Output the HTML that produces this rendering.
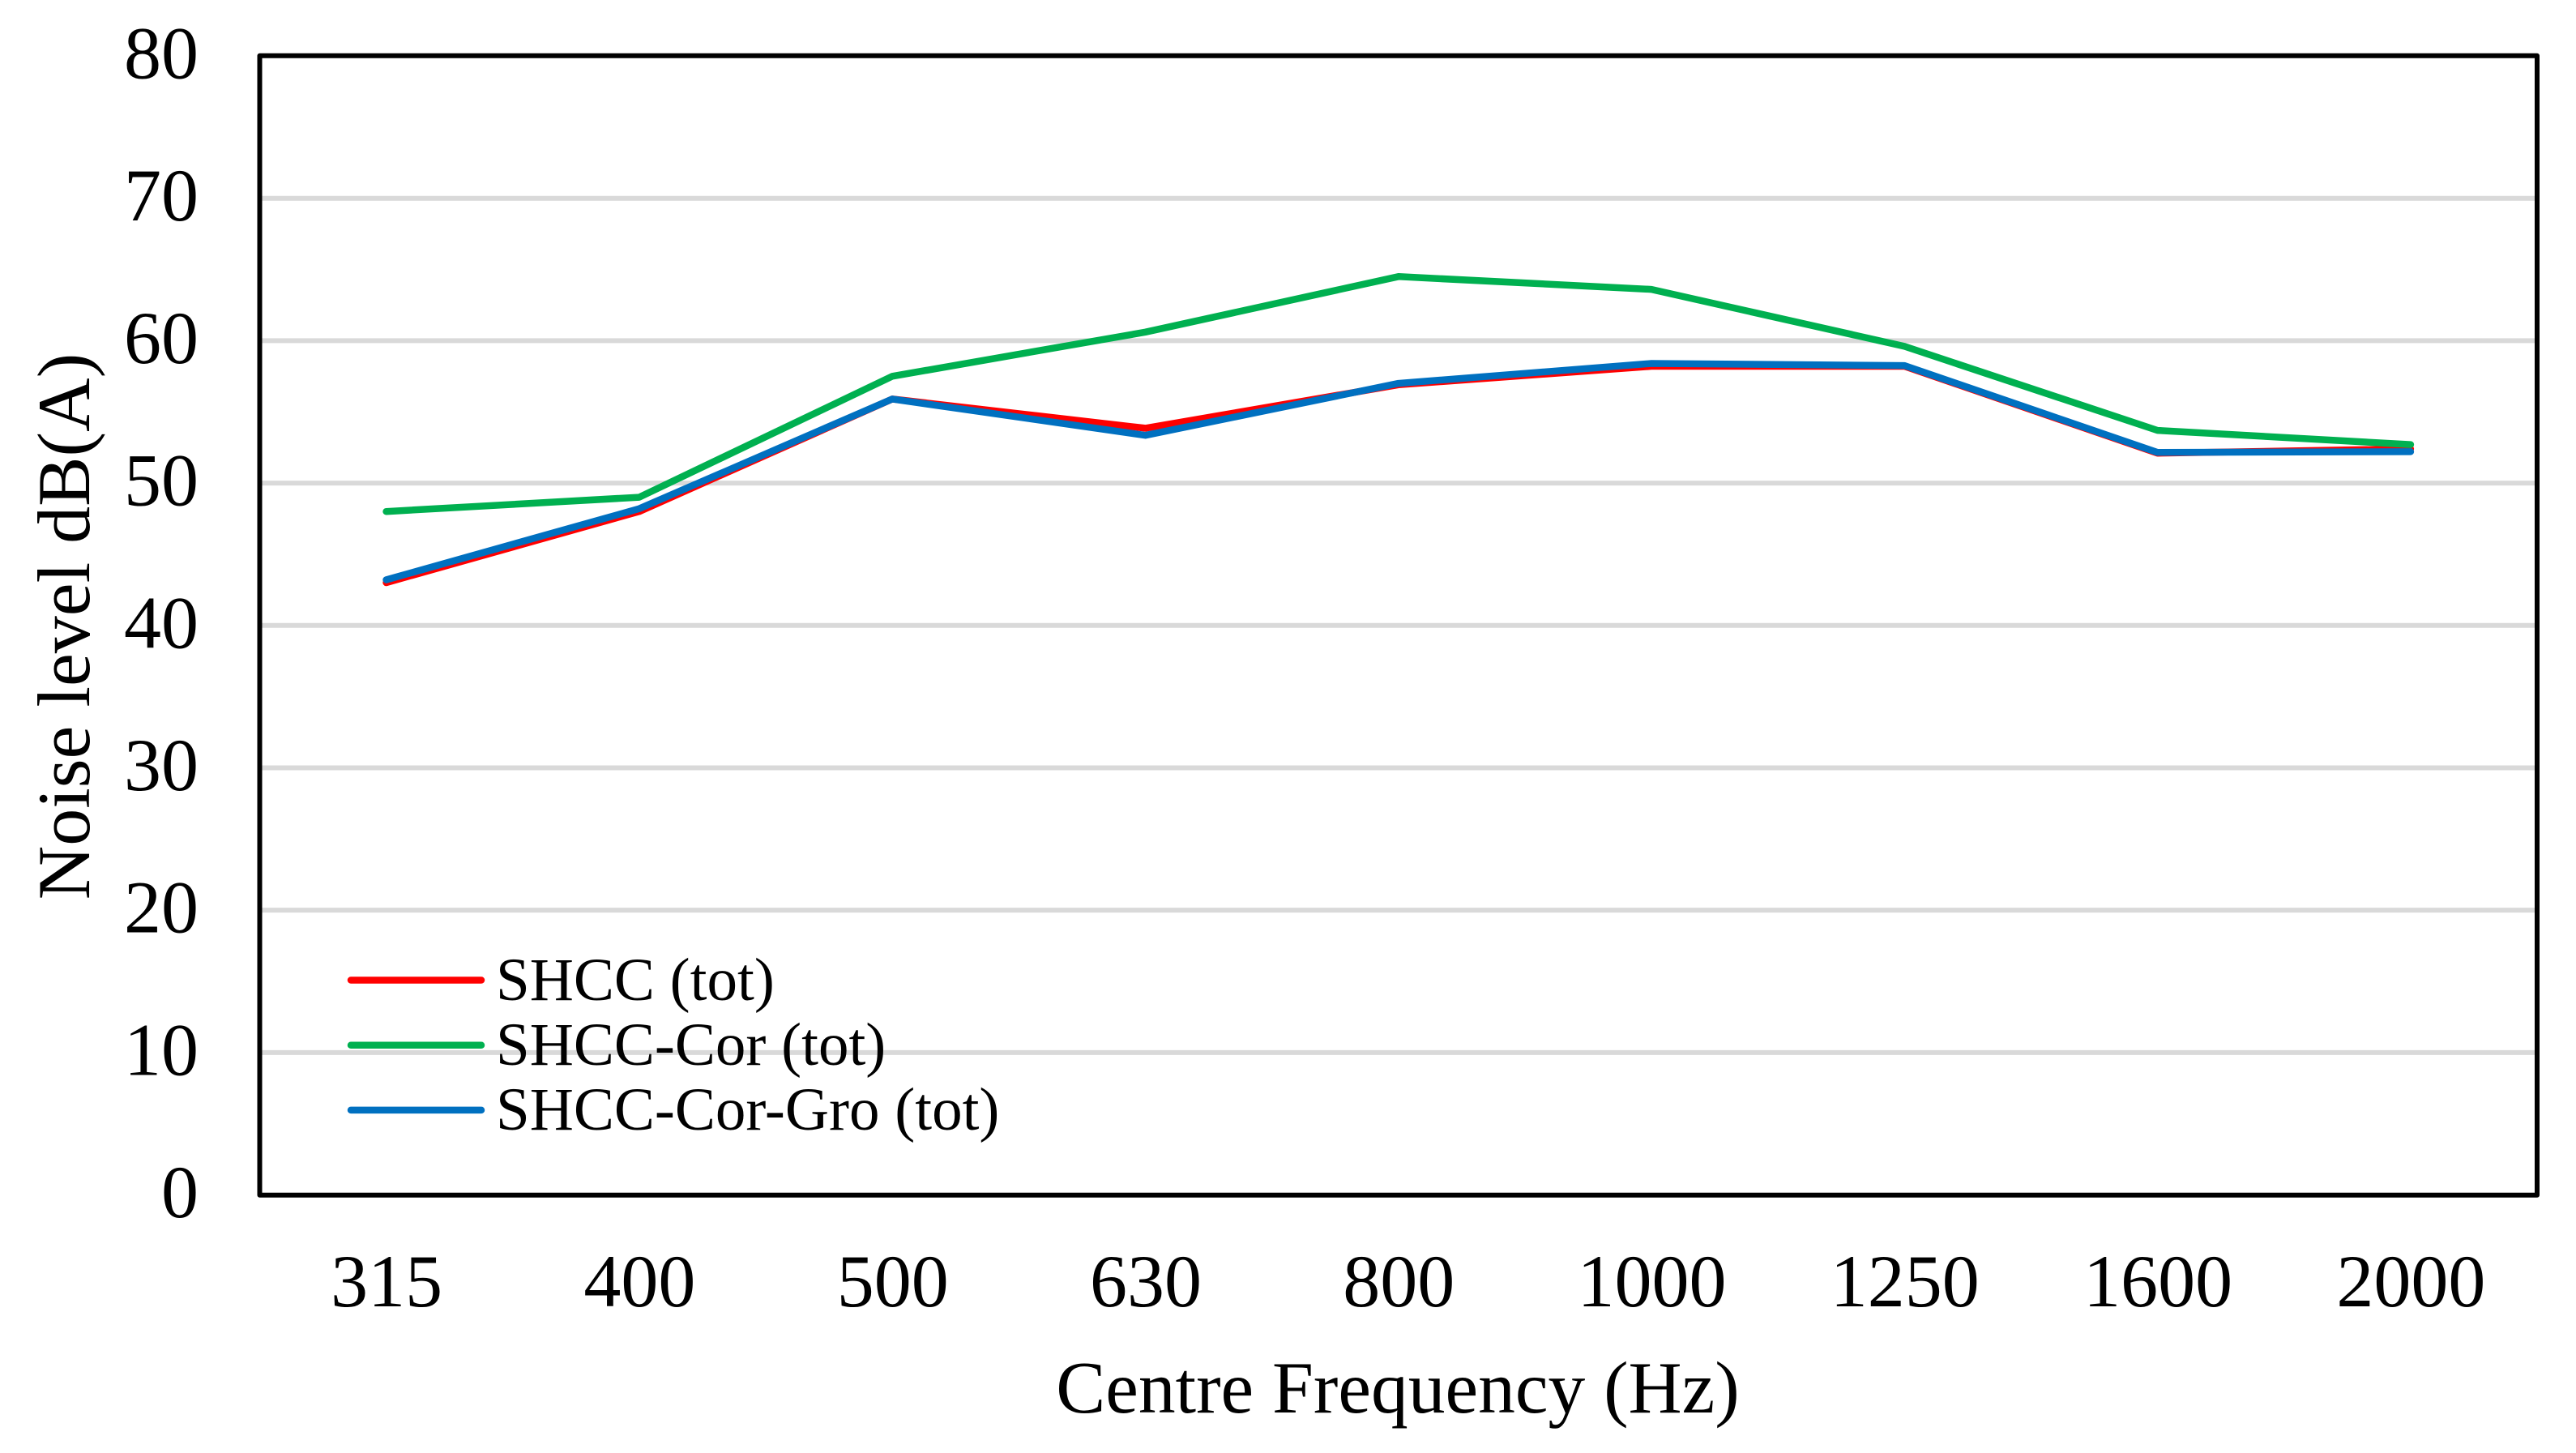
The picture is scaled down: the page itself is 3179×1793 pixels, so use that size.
<!DOCTYPE html>
<html lang="en">
<head>
<meta charset="utf-8">
<title>Noise level by centre frequency</title>
<style>
  html, body { margin: 0; padding: 0; background: #fff; }
  svg { display: block; }
  text { font-family: "Liberation Serif", "Times New Roman", serif; fill: #000; }
</style>
</head>
<body>
<svg id="chart" xmlns="http://www.w3.org/2000/svg" width="3179" height="1793" viewBox="0 0 3179 1793">
  <rect x="0" y="0" width="3179" height="1793" fill="#ffffff"/>
  <g id="grid"></g>
  <g id="series"></g>
  <rect x="320.5" y="68.7" width="2810.5" height="1406" fill="none" stroke="#000000" stroke-width="6" stroke-linejoin="round"/>
  <g id="yticks"></g>
  <g id="xticks"></g>
  <text transform="translate(110,773) rotate(-90)" text-anchor="middle" font-size="92">Noise level dB(A)</text>
  <text x="1725" y="1743" text-anchor="middle" font-size="91.5">Centre Frequency (Hz)</text>
  <g id="legend"></g>
</svg>
<script>
const categories = ["315", "400", "500", "630", "800", "1000", "1250", "1600", "2000"];
const yTickValues = [0, 10, 20, 30, 40, 50, 60, 70, 80];
const shccValues = [43.0, 48.0, 55.9, 53.85, 56.9, 58.2, 58.2, 52.1, 52.4];
const shccCorValues = [48.0, 49.0, 57.5, 60.6, 64.5, 63.6, 59.6, 53.7, 52.7];
const shccCorGroValues = [43.2, 48.2, 55.9, 53.35, 57.0, 58.4, 58.25, 52.15, 52.2];
const seriesNames = ["SHCC (tot)", "SHCC-Cor (tot)", "SHCC-Cor-Gro (tot)"];
const seriesColors = ["#ff0000", "#00b050", "#0070c0"];
const seriesKeys = ["shcc", "shcc-cor", "shcc-cor-gro"];
const seriesValues = [shccValues, shccCorValues, shccCorGroValues];

const NS = "http://www.w3.org/2000/svg";
const plot = { left: 320.5, right: 3131, top: 69, bottom: 1474.5 };
const yMax = 80;

function xScale(i) {
  const band = (plot.right - plot.left) / categories.length;
  return plot.left + band * (i + 0.5);
}
function yScale(v) {
  return plot.bottom - (v / yMax) * (plot.bottom - plot.top);
}
function make(tag, parent, attrs) {
  const el = document.createElementNS(NS, tag);
  for (const k in attrs) el.setAttribute(k, attrs[k]);
  parent.appendChild(el);
  return el;
}

const gridGroup = document.getElementById("grid");
const yTickGroup = document.getElementById("yticks");
const xTickGroup = document.getElementById("xticks");
const seriesGroup = document.getElementById("series");
const legendGroup = document.getElementById("legend");

yTickValues.forEach(function (v) {
  if (v > 0 && v < yMax) {
    const line = make("line", gridGroup, { x1: plot.left, x2: plot.right, y1: yScale(v), y2: yScale(v), stroke: "#d9d9d9", "stroke-width": 6 });
    
    
  }
  const label = make("text", yTickGroup, { x: 245, y: yScale(v) + 27.5, "text-anchor": "end", "font-size": 92 });
  label.textContent = String(v);
  
  
});

categories.forEach(function (c, i) {
  const label = make("text", xTickGroup, { x: xScale(i) + 0.5, y: 1612, "text-anchor": "middle", "font-size": 92 });
  label.textContent = c;
  
  
});

seriesValues.forEach(function (vals, s) {
  const pts = vals.map(function (v, i) { return xScale(i).toFixed(1) + "," + yScale(v).toFixed(1); }).join(" ");
  const line = make("polyline", seriesGroup, { points: pts, fill: "none", stroke: seriesColors[s], "stroke-width": 8.5, "stroke-linecap": "round", "stroke-linejoin": "round" });
  
  
});

seriesNames.forEach(function (name, s) {
  const rowY = 1209.5 + s * 80.2;
  const swatch = make("line", legendGroup, { x1: 433, x2: 594, y1: rowY, y2: rowY, stroke: seriesColors[s], "stroke-width": 8.5, "stroke-linecap": "round" });
  
  
  const label = make("text", legendGroup, { x: 612, y: rowY + 24.3, "font-size": 75 });
  label.textContent = name;
  
  
});
</script>
</body>
</html>
